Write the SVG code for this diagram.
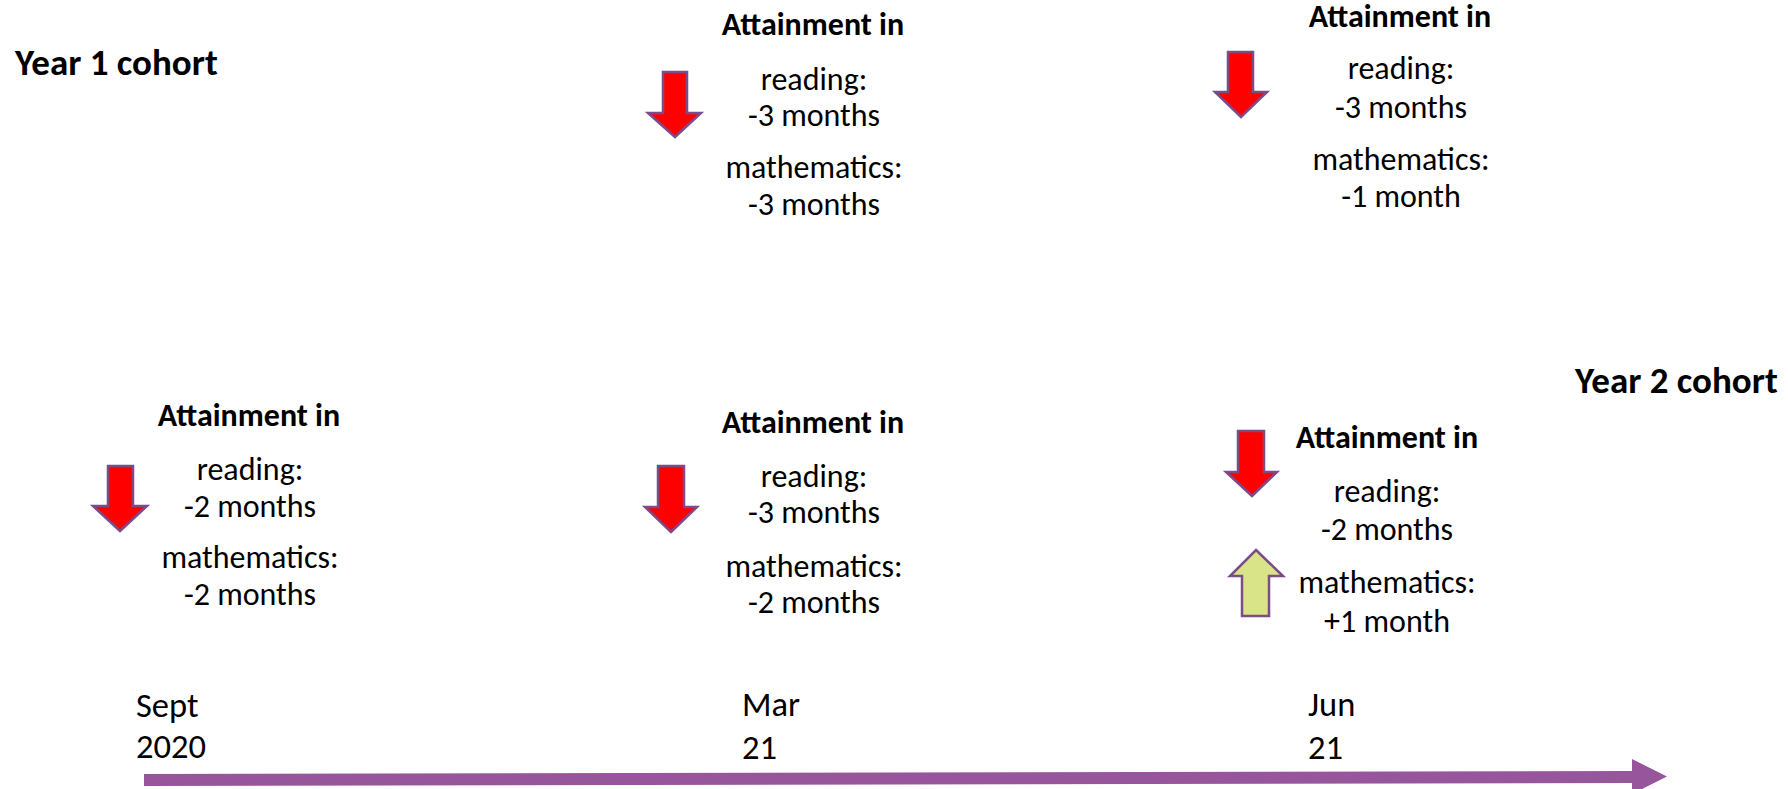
<svg xmlns="http://www.w3.org/2000/svg" width="1788" height="789" viewBox="0 0 1788 789">
<style>
text{font-family:Carlito,Lato,"Liberation Sans",sans-serif;fill:#000}
.b{font-weight:bold;font-size:32px}
.r{font-size:32px}
.c{text-anchor:middle}
.h{font-weight:bold;font-size:37px}
.t{font-size:34.5px}
.dn{fill:#FF0000;stroke:#7B4B8A;stroke-width:2.5;stroke-linejoin:miter}
.up{fill:#D9E388;stroke:#7B4B8A;stroke-width:2.5;stroke-linejoin:miter}
</style>
<rect width="1788" height="789" fill="#fff"/>

<g id="year1-label"><text class="h" x="15" y="75">Year 1 cohort</text></g>
<g id="year2-label"><text class="h" x="1575" y="393">Year 2 cohort</text></g>

<g id="y1-mar21">
<polygon class="dn" points="663,72 687,72 687,113 701,113 675,137 648,113 663,113"/>
<text class="b c" x="813" y="35">Attainment in</text>
<text class="r c" x="814" y="90">reading:</text>
<text class="r c" x="814" y="126">-3 months</text>
<text class="r c" x="814" y="178">mathematics:</text>
<text class="r c" x="814" y="215">-3 months</text>
</g>

<g id="y1-jun21">
<polygon class="dn" points="1228,52 1253,52 1253,92 1267,92 1241,117 1215,92 1228,92"/>
<text class="b c" x="1400" y="27">Attainment in</text>
<text class="r c" x="1401" y="79">reading:</text>
<text class="r c" x="1401" y="118">-3 months</text>
<text class="r c" x="1401" y="170">mathematics:</text>
<text class="r c" x="1401" y="207">-1 month</text>
</g>

<g id="y2-sept20">
<polygon class="dn" points="108,466 133,466 133,506 147,506 120,531 93,506 108,506"/>
<text class="b c" x="249" y="426">Attainment in</text>
<text class="r c" x="250" y="480">reading:</text>
<text class="r c" x="250" y="517">-2 months</text>
<text class="r c" x="250" y="568">mathematics:</text>
<text class="r c" x="250" y="605">-2 months</text>
</g>

<g id="y2-mar21">
<polygon class="dn" points="658,466 684,466 684,507 697,507 671,532 645,507 658,507"/>
<text class="b c" x="813" y="433">Attainment in</text>
<text class="r c" x="814" y="487">reading:</text>
<text class="r c" x="814" y="523">-3 months</text>
<text class="r c" x="814" y="577">mathematics:</text>
<text class="r c" x="814" y="613">-2 months</text>
</g>

<g id="y2-jun21">
<polygon class="dn" points="1238,431 1264,431 1264,472 1277,472 1252,496 1226,472 1238,472"/>
<polygon class="up" points="1256,550 1283,576 1269,576 1269,616 1242,616 1242,576 1230,576"/>
<text class="b c" x="1387" y="448">Attainment in</text>
<text class="r c" x="1387" y="502">reading:</text>
<text class="r c" x="1387" y="540">-2 months</text>
<text class="r c" x="1387" y="593">mathematics:</text>
<text class="r c" x="1387" y="632">+1 month</text>
</g>

<g id="tick-sept"><text class="t" x="136" y="717">Sept</text><text class="t" x="136" y="758">2020</text></g>
<g id="tick-mar"><text class="t" x="742" y="716">Mar</text><text class="t" x="742" y="759">21</text></g>
<g id="tick-jun"><text class="t" x="1308" y="716">Jun</text><text class="t" x="1308" y="759">21</text></g>

<g id="connectors">
<polygon fill="#97569C" points="144,774 1632,771 1632,759 1667,776.5 1632,794 1632,783 144,786"/>
</g>
</svg>
